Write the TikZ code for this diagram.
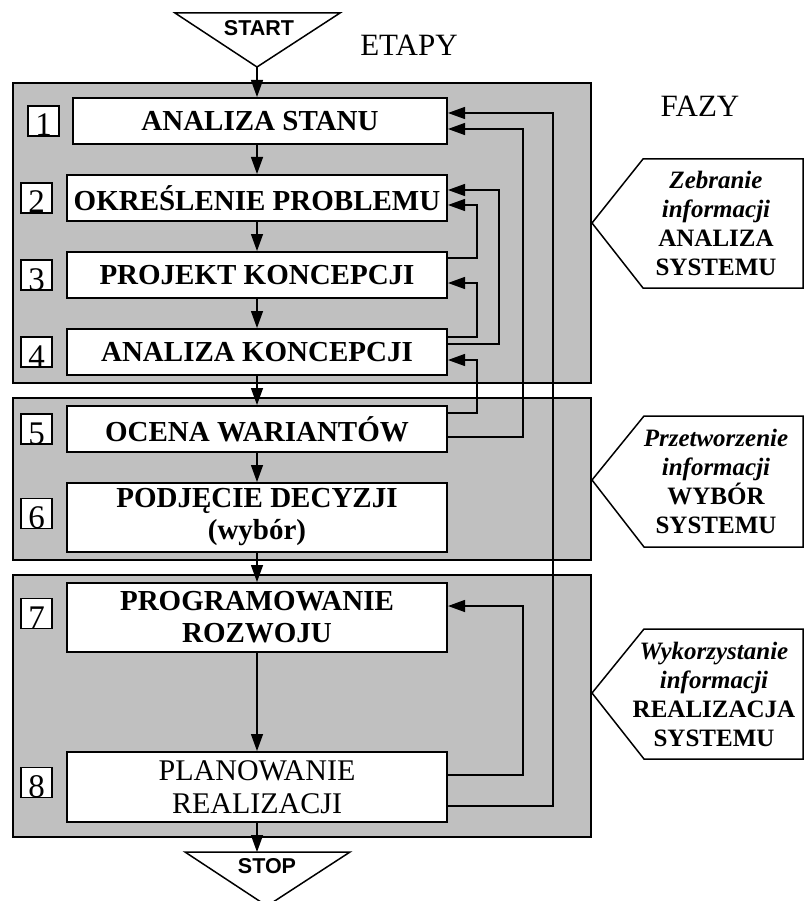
\documentclass[tikz,border=0pt]{standalone}
\usepackage{fontspec}
\setmainfont{Liberation Serif}
\newfontfamily\arialfont{Liberation Sans}
\usepackage{tikz}
\usetikzlibrary{arrows.meta}
\definecolor{panelgray}{HTML}{C0C0C0}
\tikzstyle{stage} = [rectangle, minimum width=380pt, minimum height=46pt, inner sep=2pt, align=center, draw=black, line width=2pt, fill=white, font=\bfseries\fontsize{29}{32}\selectfont]
\tikzstyle{stagenr} = [rectangle, minimum width=31pt, minimum height=30pt, inner sep=0pt, draw=black, line width=1.4pt, fill=white, font=\fontsize{33}{33}\selectfont]
\tikzstyle{phase} = [draw=black, line width=1.5pt, fill=panelgray]
\tikzstyle{phasetext} = [align=center, inner sep=0pt, font=\bfseries\fontsize{25}{29}\selectfont]
\tikzstyle{callout} = [draw=black, line width=1.5pt, fill=white]
\tikzstyle{terminal} = [draw=black, line width=1.5pt, fill=white]
\tikzstyle{termtext} = [inner sep=0pt, font=\arialfont\bfseries\fontsize{21.5}{21.5}\selectfont]
\tikzstyle{heading} = [inner sep=0pt, font=\fontsize{31}{31}\selectfont]

\begin{document}
\begin{tikzpicture}[x=1pt, y=-1pt, node distance=77pt, line width=1.3pt, >={Triangle[length=17pt,width=12pt]}]
\useasboundingbox (0,0) rectangle (804,901);

% tla faz
\draw[phase] (13,83) rectangle (591,383);
\draw[phase] (13,398) rectangle (591,560);
\draw[phase] (13,575) rectangle (591,837);

\node (etapy) [heading] at (409,45) {ETAPY};
\node (fazy) [heading] at (700,106) {FAZY};

% start
\draw[terminal] (175,13) -- (340,13) -- (257,67) -- cycle;
\coordinate (startpt) at (257,67);
\node (start) [termtext] at (259,28) {START};

% etapy
\node (b1) [stage, minimum width=374pt] at (260,121) {ANALIZA STANU};
\node (b2) [stage, below of=b1, xshift=-3pt] {OKREŚLENIE PROBLEMU};
\node (b3) [stage, below of=b2] {PROJEKT KONCEPCJI};
\node (b4) [stage, below of=b3] {ANALIZA KONCEPCJI};
\node (b5) [stage, below of=b4] {OCENA WARIANTÓW};
\node (b6) [stage, below of=b5, yshift=-11.5pt, minimum height=69pt] {PODJĘCIE DECYZJI\\(wybór)};
\node (b7) [stage, below of=b6, yshift=-23pt, minimum height=69pt] {PROGRAMOWANIE\\ROZWOJU};
\node (b8) [stage, below of=b7, yshift=-92.5pt, minimum height=70pt, font=\fontsize{30}{33}\selectfont] {PLANOWANIE\\REALIZACJI};

\node (n1) [stagenr, left of=b1, xshift=-139.5pt] {\raisebox{-15pt}[0pt][0pt]{1}};
\node (n2) [stagenr, left of=b2, xshift=-143.5pt] {\raisebox{-15pt}[0pt][0pt]{2}};
\node (n3) [stagenr, left of=b3, xshift=-143.5pt] {\raisebox{-15pt}[0pt][0pt]{3}};
\node (n4) [stagenr, left of=b4, xshift=-143.5pt] {\raisebox{-15pt}[0pt][0pt]{4}};
\node (n5) [stagenr, left of=b5, xshift=-143.5pt] {\raisebox{-15pt}[0pt][0pt]{5}};
\node (n6) [stagenr, left of=b6, xshift=-143.5pt, yshift=4pt] {\raisebox{-15pt}[0pt][0pt]{6}};
\node (n7) [stagenr, left of=b7, xshift=-143.5pt, yshift=4pt] {\raisebox{-15pt}[0pt][0pt]{7}};
\node (n8) [stagenr, left of=b8, xshift=-143.5pt, yshift=4.5pt] {\raisebox{-15pt}[0pt][0pt]{8}};

% stop
\draw[terminal] (185,852) -- (350,852) -- (267,906) -- cycle;
\coordinate (stoptop) at (267,852);
\node (stop) [termtext] at (267,866) {STOP};

% glowny ciag
\draw [->] (startpt) -- (startpt |- b1.north);
\draw [->] (b1.south -| b2) -- (b2);
\draw [->] (b2) -- (b3);
\draw [->] (b3) -- (b4);
\draw [->] (b4) -- (b5);
\draw [->] (b5) -- (b6);
\draw [->] (b6) -- (b7);
\draw [->] (b7) -- (b8);
\draw [->] (b8) -- (b8 |- stoptop);

% powroty
\draw [->] ([yshift=17pt]b3.east) -- ++(29,0) |- ([yshift=-7pt]b2.east);
\draw [->] ([yshift=15pt]b4.east) -- ++(29,0) |- ([yshift=-8pt]b3.east);
\draw [->] ([yshift=8pt]b4.east) -- ++(51,0) |- ([yshift=8pt]b2.east);
\draw [->] ([yshift=16pt]b5.east) -- ++(29,0) |- ([yshift=-8pt]b4.east);
\draw [->] ([yshift=-8pt]b5.east) -- ++(75,0) |- ([yshift=-8pt]b1.east);
\draw [->] ([yshift=12pt]b8.east) -- ++(75,0) |- ([yshift=11.5pt]b7.east);
\draw [->] ([yshift=-19pt]b8.east) -- ++(105,0) |- ([yshift=8pt]b1.east);

% fazy
\draw[callout] (592,223) -- (643,159) -- (803,159) -- (803,288) -- (643,288) -- cycle;
\node (f1) [phasetext] at (716,223) {{\itshape Zebranie}\\{\itshape informacji}\\ANALIZA\\SYSTEMU};
\draw[callout] (592,480) -- (644,416) -- (803,416) -- (803,547) -- (644,547) -- cycle;
\node (f2) [phasetext] at (716,481) {{\itshape Przetworzenie}\\{\itshape informacji}\\WYBÓR\\SYSTEMU};
\draw[callout] (592,693) -- (644,629) -- (803,629) -- (803,759) -- (644,759) -- cycle;
\node (f3) [phasetext] at (714,694) {{\itshape Wykorzystanie}\\{\itshape informacji}\\REALIZACJA\\SYSTEMU};
\end{tikzpicture}
\end{document}
